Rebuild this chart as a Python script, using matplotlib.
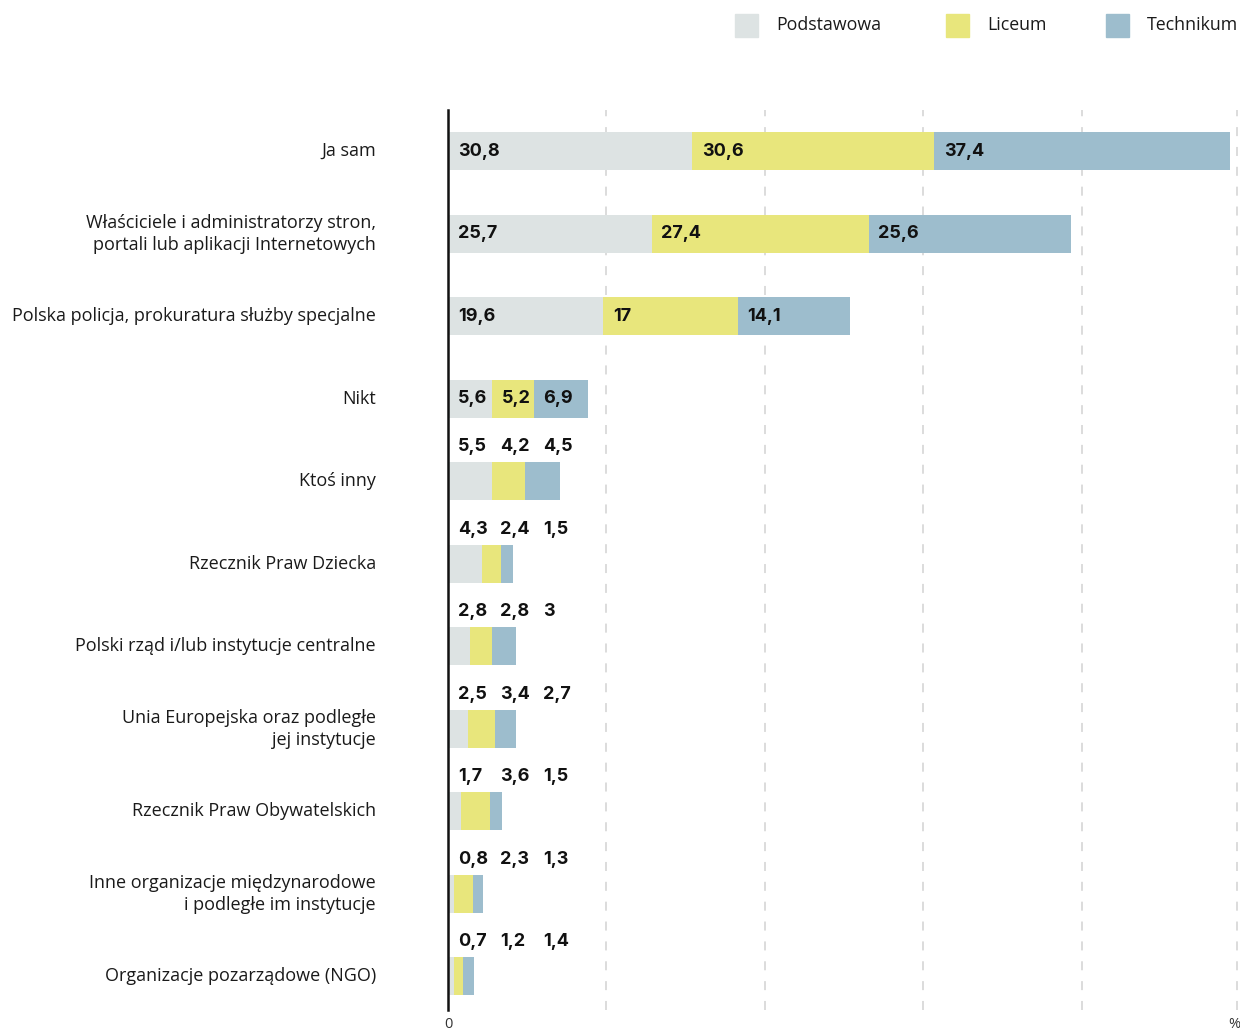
import numpy as np
import matplotlib.pyplot as plt
from matplotlib.patches import Rectangle

# Data
categories = [
    "Ja sam",
    "Właściciele i administratorzy stron,\nportali lub aplikacji Internetowych",
    "Polska policja, prokuratura służby specjalne",
    "Nikt",
    "Ktoś inny",
    "Rzecznik Praw Dziecka",
    "Polski rząd i/lub instytucje centralne",
    "Unia Europejska oraz podległe\njej instytucje",
    "Rzecznik Praw Obywatelskich",
    "Inne organizacje międzynarodowe\ni podległe im instytucje",
    "Organizacje pozarządowe (NGO)",
]
podstawowa = [30.8, 25.7, 19.6, 5.6, 5.5, 4.3, 2.8, 2.5, 1.7, 0.8, 0.7]
liceum = [30.6, 27.4, 17, 5.2, 4.2, 2.4, 2.8, 3.4, 3.6, 2.3, 1.2]
technikum = [37.4, 25.6, 14.1, 6.9, 4.5, 1.5, 3, 2.7, 1.5, 1.3, 1.4]
series_names = ["Podstawowa", "Liceum", "Technikum"]
colors = ["#dde3e3", "#e8e67c", "#9dbdcd"]

plt.rcParams['font.family'] = ["Open Sans", 'DejaVu Sans']
NUM_FONT = ["Inter", "DejaVu Sans"]

def fmt(v):
    return f"{v:g}".replace(".", ",")

fig = plt.figure(figsize=(12.4, 10.32), dpi=100)
ax = fig.add_axes([448 / 1240, 1 - 1010 / 1032, 1 - 448 / 1240, (1010 - 110) / 1032])

y = np.arange(len(categories))
series = [podstawowa, liceum, technikum]
left = np.zeros(len(categories))
for vals, col in zip(series, colors):
    ax.barh(y, vals, left=left, height=0.46, color=col, edgecolor="none", zorder=2)
    left += np.array(vals)

# value labels
col_offsets = [7, 37.5, 68.5]  # points from x=0 for labels above small bars
for i in range(len(categories)):
    segs = [s[i] for s in series]
    if min(segs) >= 5:
        start = 0
        for v in segs:
            ax.annotate(fmt(v), (start, i), xytext=(7, 0), textcoords="offset points",
                        ha="left", va="center", fontsize=13, fontweight="bold",
                        family=NUM_FONT, color="#111111", zorder=3)
            start += v
    else:
        for v, off in zip(segs, col_offsets):
            ax.annotate(fmt(v), (0, i - 0.23), xytext=(off, 5), textcoords="offset points",
                        ha="left", va="bottom", fontsize=13, fontweight="bold",
                        family=NUM_FONT, color="#111111", zorder=3)

# category labels
for i, c in enumerate(categories):
    ax.annotate(c, (0, i), xytext=(-52, 0), textcoords="offset points",
                ha="right", va="center", fontsize=13, linespacing=1.3,
                annotation_clip=False, color="#1a1a1a")

ax.set_xlim(0, 100)
ax.set_ylim(10.41, -0.5)
ax.set_yticks([])
ax.set_xticks([0, 100])
ax.set_xticklabels(["0", "%"], fontsize=10.5, color="#333333")
ax.get_xticklabels()[1].set_ha("right")
ax.tick_params(axis="x", length=0, pad=5)
for x in [20, 40, 60, 80, 99.6]:
    ax.axvline(x, color="#d9d9d9", linestyle=(0, (5, 6)), linewidth=1.3, zorder=1)
for s in ["top", "right", "bottom"]:
    ax.spines[s].set_visible(False)
ax.spines["left"].set_linewidth(1.8)
ax.spines["left"].set_color("#111111")
ax.spines["left"].set_zorder(4)

# legend
leg_x = [735, 946, 1106]
for name, col, lx in zip(series_names, colors, leg_x):
    fig.patches.append(Rectangle((lx / 1240, 1 - 37 / 1032), 23 / 1240, 23 / 1032,
                                 transform=fig.transFigure, color=col))
    fig.text((lx + 41) / 1240, 1 - 25 / 1032, name, ha="left", va="center",
             fontsize=12.8, color="#1a1a1a")

fig.savefig("out.png", dpi=100)
